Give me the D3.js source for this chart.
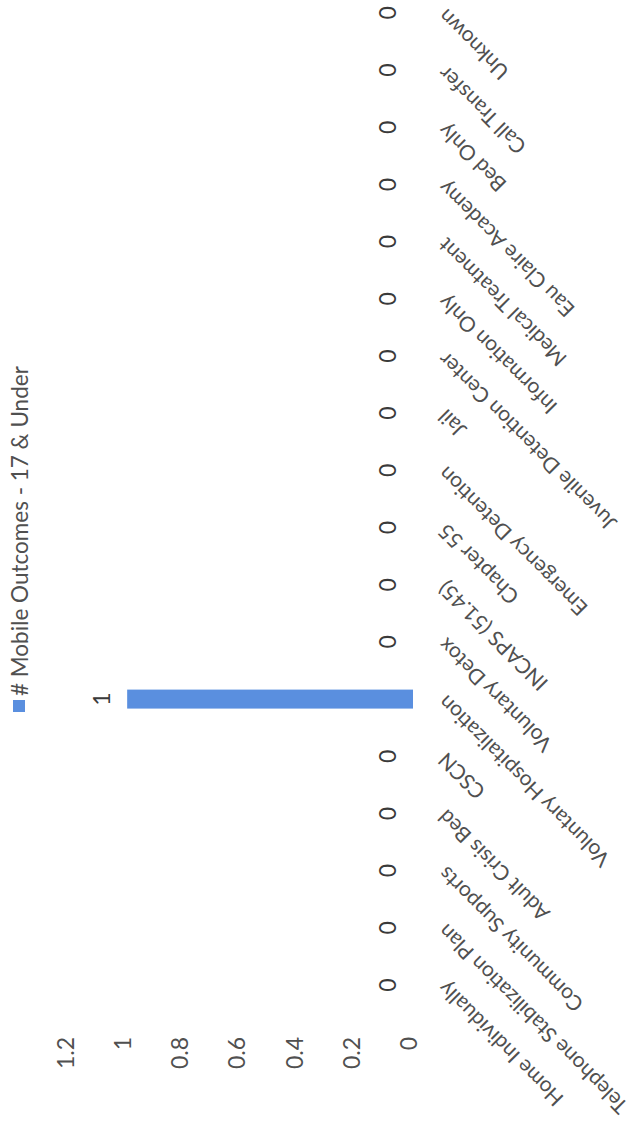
<!DOCTYPE html>
<html><head><meta charset="utf-8">
<script src="https://cdn.jsdelivr.net/npm/d3@7"></script>
<style>html,body{margin:0;padding:0;background:#fff;} svg{display:block;}</style>
</head><body>
<svg id="chart" width="637" height="1133"></svg>
<script>
const categories = ["Home Individually","Telephone Stabilization Plan","Community Supports","Adult Crisis Bed","CSCN","Voluntary Hospitalization","Voluntary Detox","INCAPS (51.45)","Chapter 55","Emergency Detention","Jail","Juvenile Detention Center","Information Only","Medical Treatment","Eau Claire Academy","Bed Only","Call Transfer","Unknown"];
const values = [0,0,0,0,0,1,0,0,0,0,0,0,0,0,0,0,0,0];
const seriesName = "# Mobile Outcomes - 17 & Under";
const yTicks = [0,0.2,0.4,0.6,0.8,1,1.2];
const yTickLabels = ["0","0.2","0.4","0.6","0.8","1","1.2"];

const W = 1133; // unrotated chart width (becomes page height)
const FONT = "Lato, 'Open Sans', sans-serif";
const BAR = "#5a8fdf";

const svg = d3.select("#chart");
// the chart is drawn unrotated, then turned 90° counter-clockwise
const g = svg.append("g").attr("transform", `translate(0,${W}) rotate(-90)`);

const x = d3.scaleBand().domain(categories).range([119.4, 1148.7]).paddingInner(0.668).paddingOuter(0.334);
const y = d3.scaleLinear().domain([0, 1.2]).range([413, 70]);

// value axis labels
const yAxis = d3.axisLeft(y).tickValues(yTicks).tickFormat((d, i) => yTickLabels[i]).tickSize(0).tickPadding(0);
const ya = g.append("g").attr("transform", "translate(96,-4)").call(yAxis);
ya.select(".domain").remove();
ya.selectAll("text").attr("font-family", FONT).attr("font-size", 23).attr("fill", "#505050").attr("x", 0);

// bars
const data = categories.map((c, i) => ({c, v: values[i]}));
g.selectAll("rect.bar").data(data).join("rect").attr("class", "bar")
  .attr("x", d => x(d.c)).attr("width", x.bandwidth())
  .attr("y", d => y(d.v)).attr("height", d => y(0) - y(d.v))
  .attr("fill", BAR);

// data labels
g.selectAll("text.dl").data(data).join("text").attr("class", "dl")
  .attr("x", d => x(d.c) + x.bandwidth() / 2).attr("y", d => y(d.v) - 25)
  .attr("dy", "0.35em").attr("text-anchor", "middle")
  .attr("font-family", FONT).attr("font-size", 23).attr("fill", "#3a3a3a")
  .text(d => d.v);

// category labels
const xAxis = d3.axisBottom(x).tickSize(0).tickPadding(0);
const xa = g.append("g").attr("transform", "translate(0,442)").call(xAxis);
xa.select(".domain").remove();
xa.selectAll("text").attr("font-family", FONT).attr("font-size", 21).attr("fill", "#505050")
  .attr("text-anchor", "end").attr("y", 0).attr("dy", "0.35em")
  .attr("transform", "rotate(-45)");

// legend
const lg = g.append("g").attr("transform", "translate(421,19)");
lg.append("rect").attr("x", 0).attr("y", -6).attr("width", 12).attr("height", 12).attr("fill", BAR);
lg.append("text").attr("x", 16).attr("y", 1).attr("dy", "0.35em")
  .attr("font-family", FONT).attr("font-size", 22.5).attr("fill", "#505050").text(seriesName);
</script>
</body></html>
